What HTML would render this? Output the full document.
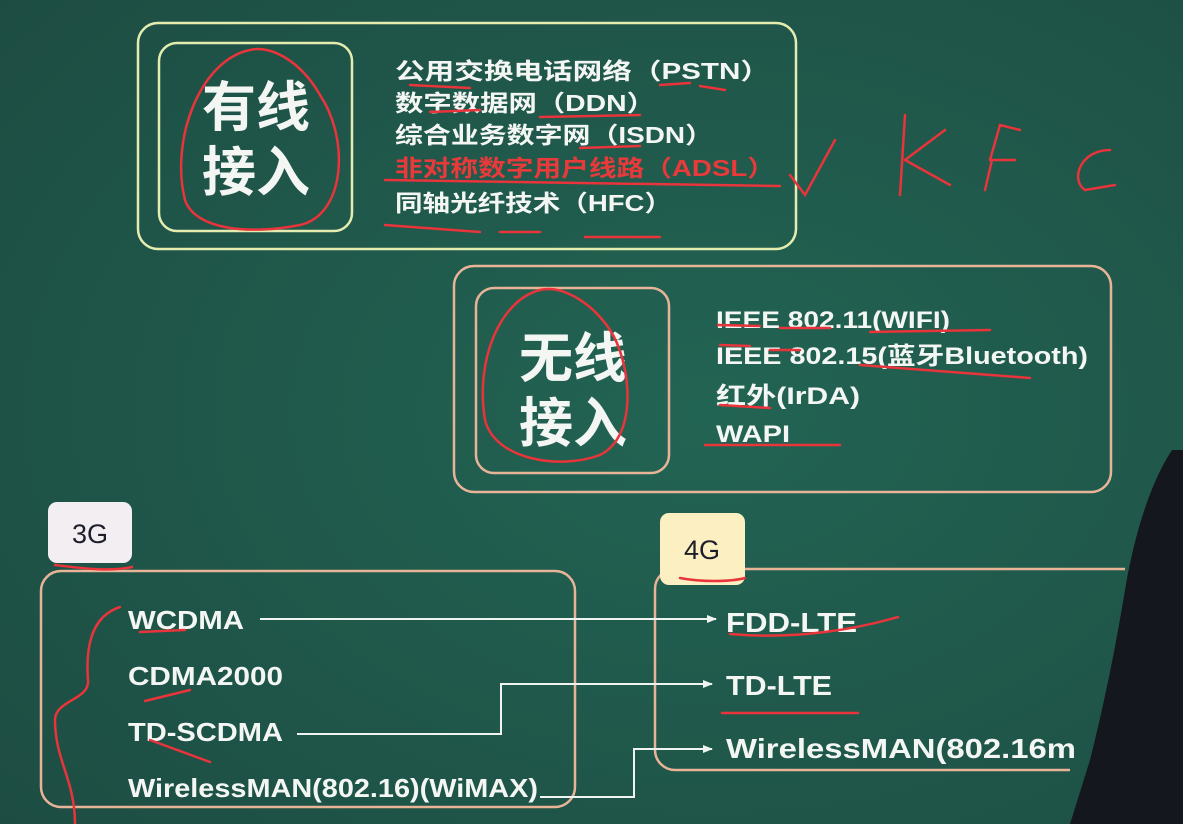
<!DOCTYPE html>
<html><head><meta charset="utf-8"><style>
html,body{margin:0;padding:0;background:#1f4e44;width:1183px;height:824px;overflow:hidden}
svg{display:block}
text{font-family:"Liberation Sans","Noto Sans CJK SC",sans-serif;fill:#f4f6f4}
</style></head><body>
<svg width="1183" height="824" viewBox="0 0 1183 824">
<defs><radialGradient id="bg" cx="0.6" cy="0.5" r="0.8"><stop offset="0" stop-color="#226453"/><stop offset="1" stop-color="#1d4c42"/></radialGradient>
<marker id="ar" markerWidth="10" markerHeight="10" refX="9" refY="5" orient="auto" markerUnits="userSpaceOnUse"><path d="M0,1 L10,5 L0,9 z" fill="#f0f4f0"/></marker></defs>
<rect width="1183" height="824" fill="url(#bg)"/>
<!-- wired -->
<rect x="138" y="23" width="658" height="226" rx="20" fill="none" stroke="#e4ecb0" stroke-width="2.5"/>
<rect x="159" y="43" width="193" height="188" rx="18" fill="none" stroke="#e4ecb0" stroke-width="2.5"/>
<text x="256" y="126" font-size="54" font-weight="bold" text-anchor="middle">有线</text>
<text x="256" y="191" font-size="54" font-weight="bold" text-anchor="middle">接入</text>
<g font-size="23" font-weight="bold" lengthAdjust="spacingAndGlyphs">
<text x="395" y="79" textLength="375" lengthAdjust="spacingAndGlyphs">公用交换电话网络（PSTN）</text>
<text x="395" y="111" textLength="260" lengthAdjust="spacingAndGlyphs">数字数据网（DDN）</text>
<text x="395" y="143" textLength="318" lengthAdjust="spacingAndGlyphs">综合业务数字网（ISDN）</text>
<text x="395" y="176" textLength="380" lengthAdjust="spacingAndGlyphs" style="fill:#e83a3a">非对称数字用户线路（ADSL）</text>
<text x="395" y="211" textLength="277" lengthAdjust="spacingAndGlyphs">同轴光纤技术（HFC）</text>
</g>
<!-- wireless -->
<rect x="454" y="266" width="657" height="226" rx="20" fill="none" stroke="#e8b498" stroke-width="2.5"/>
<rect x="476" y="288" width="193" height="185" rx="18" fill="none" stroke="#e8b498" stroke-width="2.5"/>
<text x="573" y="377" font-size="54" font-weight="bold" text-anchor="middle">无线</text>
<text x="573" y="442" font-size="54" font-weight="bold" text-anchor="middle">接入</text>
<g font-size="24" font-weight="bold">
<text x="716" y="328" textLength="234" lengthAdjust="spacingAndGlyphs">IEEE 802.11(WIFI)</text>
<text x="716" y="364" textLength="372" lengthAdjust="spacingAndGlyphs">IEEE 802.15(蓝牙Bluetooth)</text>
<text x="716" y="404" textLength="144" lengthAdjust="spacingAndGlyphs">红外(IrDA)</text>
<text x="716" y="442" textLength="74" lengthAdjust="spacingAndGlyphs">WAPI</text>
</g>
<!-- 3G -->
<rect x="41" y="571" width="534" height="236" rx="20" fill="none" stroke="#e8b498" stroke-width="2.5"/>
<rect x="48" y="502" width="84" height="61" rx="9" fill="#f2eef2"/>
<text x="90" y="543" font-size="27" text-anchor="middle" style="fill:#1e1e2a">3G</text>
<g font-size="26" font-weight="bold">
<text x="128" y="629" textLength="116" lengthAdjust="spacingAndGlyphs">WCDMA</text>
<text x="128" y="685" textLength="155" lengthAdjust="spacingAndGlyphs">CDMA2000</text>
<text x="128" y="741" textLength="155" lengthAdjust="spacingAndGlyphs">TD-SCDMA</text>
<text x="128" y="797" textLength="410" lengthAdjust="spacingAndGlyphs">WirelessMAN(802.16)(WiMAX)</text>
</g>
<!-- 4G -->
<path d="M1125,569 H675 a20,20 0 0 0 -20,20 V750 a20,20 0 0 0 20,20 H1070" fill="none" stroke="#e8b498" stroke-width="2.5"/>
<rect x="660" y="513" width="85" height="72" rx="9" fill="#fcefc2"/>
<text x="702" y="559" font-size="27" text-anchor="middle" style="fill:#1e1e2a">4G</text>
<g font-size="28" font-weight="bold">
<text x="726" y="632" textLength="131" lengthAdjust="spacingAndGlyphs">FDD-LTE</text>
<text x="726" y="695" textLength="106" lengthAdjust="spacingAndGlyphs">TD-LTE</text>
<text x="726" y="758" textLength="350" lengthAdjust="spacingAndGlyphs">WirelessMAN(802.16m</text>
</g>
<!-- arrows -->
<g stroke="#f0f4f0" stroke-width="2" fill="none" marker-end="url(#ar)">
<path d="M260,619 H716"/>
<path d="M297,734 H501 V684 H712"/>
<path d="M540,797 H634 V749 H712"/>
</g>
<!-- red handwriting -->
<g stroke="#e8343a" stroke-width="2.5" fill="none" stroke-linecap="round">
<path d="M250,50 C200,60 170,140 185,200 C195,230 250,235 300,225 C345,215 350,140 320,95 C300,60 270,45 250,50"/>
<path d="M540,290 C500,300 475,360 485,420 C495,460 560,470 600,455 C640,435 630,360 610,330 C590,300 560,285 540,290"/>
<path d="M410,85 L470,88 M430,112 L480,110 M660,85 L690,83 M700,86 L725,90 M540,117 L640,115 M580,148 L640,146 M385,180 L780,186 M385,225 L480,232 M500,232 L540,232 M585,237 L660,237"/>
<path d="M790,175 L805,195 L835,140 M905,115 L900,195 M905,160 L945,130 M905,160 L950,185 M990,160 L1000,125 L1020,130 M985,190 L992,160 L1015,160 M1110,150 C1080,150 1070,180 1085,190 L1115,185"/>
<path d="M718,325 L760,326 M780,328 L830,328 M870,332 L990,330 M720,345 L750,346 M770,350 L800,350 M860,365 L1030,378 M720,405 L770,408 M705,445 L840,445"/>
<path d="M55,565 C80,568 110,572 132,567 M680,578 C700,582 730,582 745,578"/>
<path d="M120,607 C95,615 85,640 88,680 C90,700 55,700 55,720 C55,760 75,780 75,824"/>
<path d="M140,632 L185,630 M145,701 L190,690 M150,740 L210,762 M730,634 C800,640 860,628 898,617 M722,713 L858,713"/>
</g>
<!-- person silhouette -->
<path d="M1172,450 C1152,480 1135,530 1125,590 C1115,650 1105,700 1090,760 L1070,824 H1183 V450 Z" fill="#15171e"/>
</svg>
</body></html>
